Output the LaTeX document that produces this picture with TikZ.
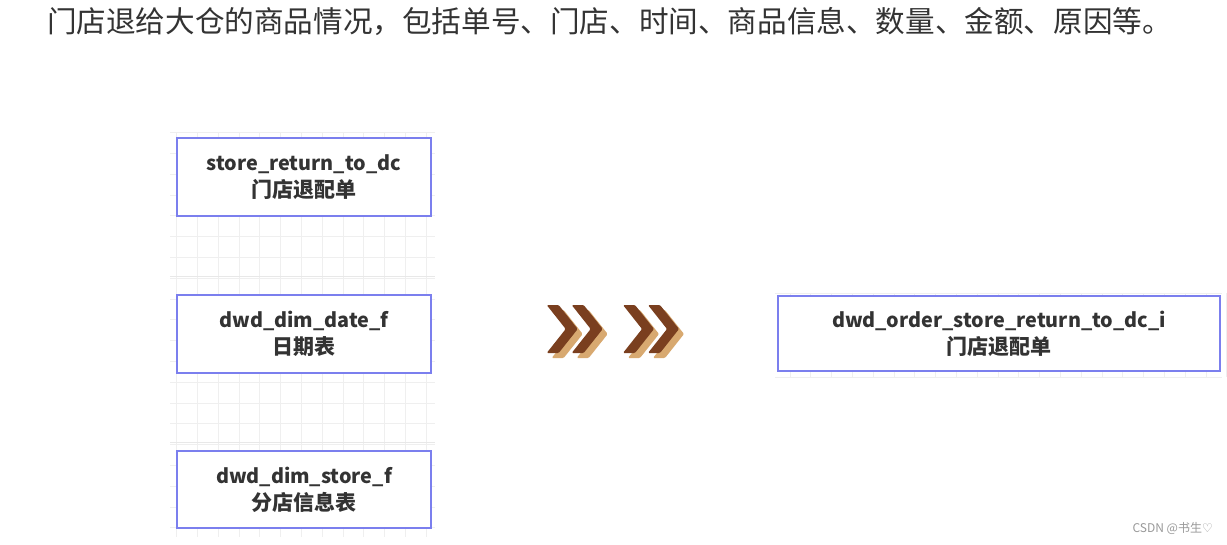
\documentclass[tikz,border=0pt]{standalone}
\usepackage{fontspec}
\setmainfont{Noto Sans CJK SC}
\newfontfamily\symfont{DejaVu Sans}
\definecolor{boxblue}{HTML}{7B7FEE}
\definecolor{txt}{HTML}{333333}
\definecolor{gridc}{HTML}{EFEFEF}
\definecolor{gridd}{HTML}{E8E8E8}
\definecolor{chdark}{HTML}{7A3F1F}
\definecolor{chlight}{HTML}{D8A970}
\newcommand{\cjkline}[1]{{\fontsize{21}{27}\selectfont #1}}
\tikzset{
  tbl/.style={draw=boxblue, line width=2.5pt, fill=white, text=txt, align=center,
    inner sep=0pt, font=\bfseries\fontsize{19.8}{27}\selectfont},
  chev/.style={rounded corners=1.2pt},
}
\begin{document}
\begin{tikzpicture}[x=1pt,y=-1pt]
\useasboundingbox (0,0) rectangle (1227,544);
\fill[white] (0,0) rectangle (1227,544);
% background grid, left column
\foreach \k in {-1,...,11} \draw[gridc, line width=0.8pt] (197.3+\k*20.8,132) -- (197.3+\k*20.8,537);
\foreach \k in {-1,...,18} \draw[gridc, line width=0.8pt] (170,153.3+\k*20.8) -- (435,153.3+\k*20.8);
\draw[gridd, line width=0.9pt] (170,276) -- (435,276);
\draw[gridd, line width=0.9pt] (170,442.7) -- (435,442.7);
% background grid, right box
\foreach \k in {0,...,21} \draw[gridc, line width=0.8pt] (790+\k*20.8,293) -- (790+\k*20.8,377);
\foreach \yy in {293,377} \draw[gridc, line width=0.8pt] (775,\yy) -- (1222,\yy);
% title
\node[text=txt, font=\fontsize{29.6}{32}\selectfont, anchor=west, inner sep=0pt] (title) at (47,22)
  {门店退给大仓的商品情况，包括单号、门店、时间、商品信息、数量、金额、原因等。};
% tables
\node[tbl, minimum width=254pt, minimum height=78pt] (src) at (304,177) {store\_return\_to\_dc\\\cjkline{门店退配单}};
\node[tbl, minimum width=254pt, minimum height=78pt] (date) at (304,334) {dwd\_dim\_date\_f\\\cjkline{日期表}};
\node[tbl, minimum width=254pt, minimum height=77pt] (store) at (304,489.5) {dwd\_dim\_store\_f\\\cjkline{分店信息表}};
\node[tbl, minimum width=442pt, minimum height=75pt] (dwd) at (999,333.5) {dwd\_order\_store\_return\_to\_dc\_i\\\cjkline{门店退配单}};
% chevrons
\foreach \xo in {546.7,571.7,623,648} {
  \begin{scope}[shift={(\xo,305)}]
    \fill[chlight, chev] (5,5) -- (17,5) -- (36,29) -- (17,53) -- (5,53) -- (24,29) -- cycle;
    \fill[chdark, chev] (0,0) -- (12,0) -- (31,24) -- (12,48) -- (0,48) -- (19,24) -- cycle;
  \end{scope}
}
% watermark
\node[text=gray!80, font=\fontsize{12}{14}\selectfont, anchor=east, inner sep=0pt] (wm) at (1213,528) {CSDN @书生{\symfont ♡}};
\end{tikzpicture}
\end{document}
